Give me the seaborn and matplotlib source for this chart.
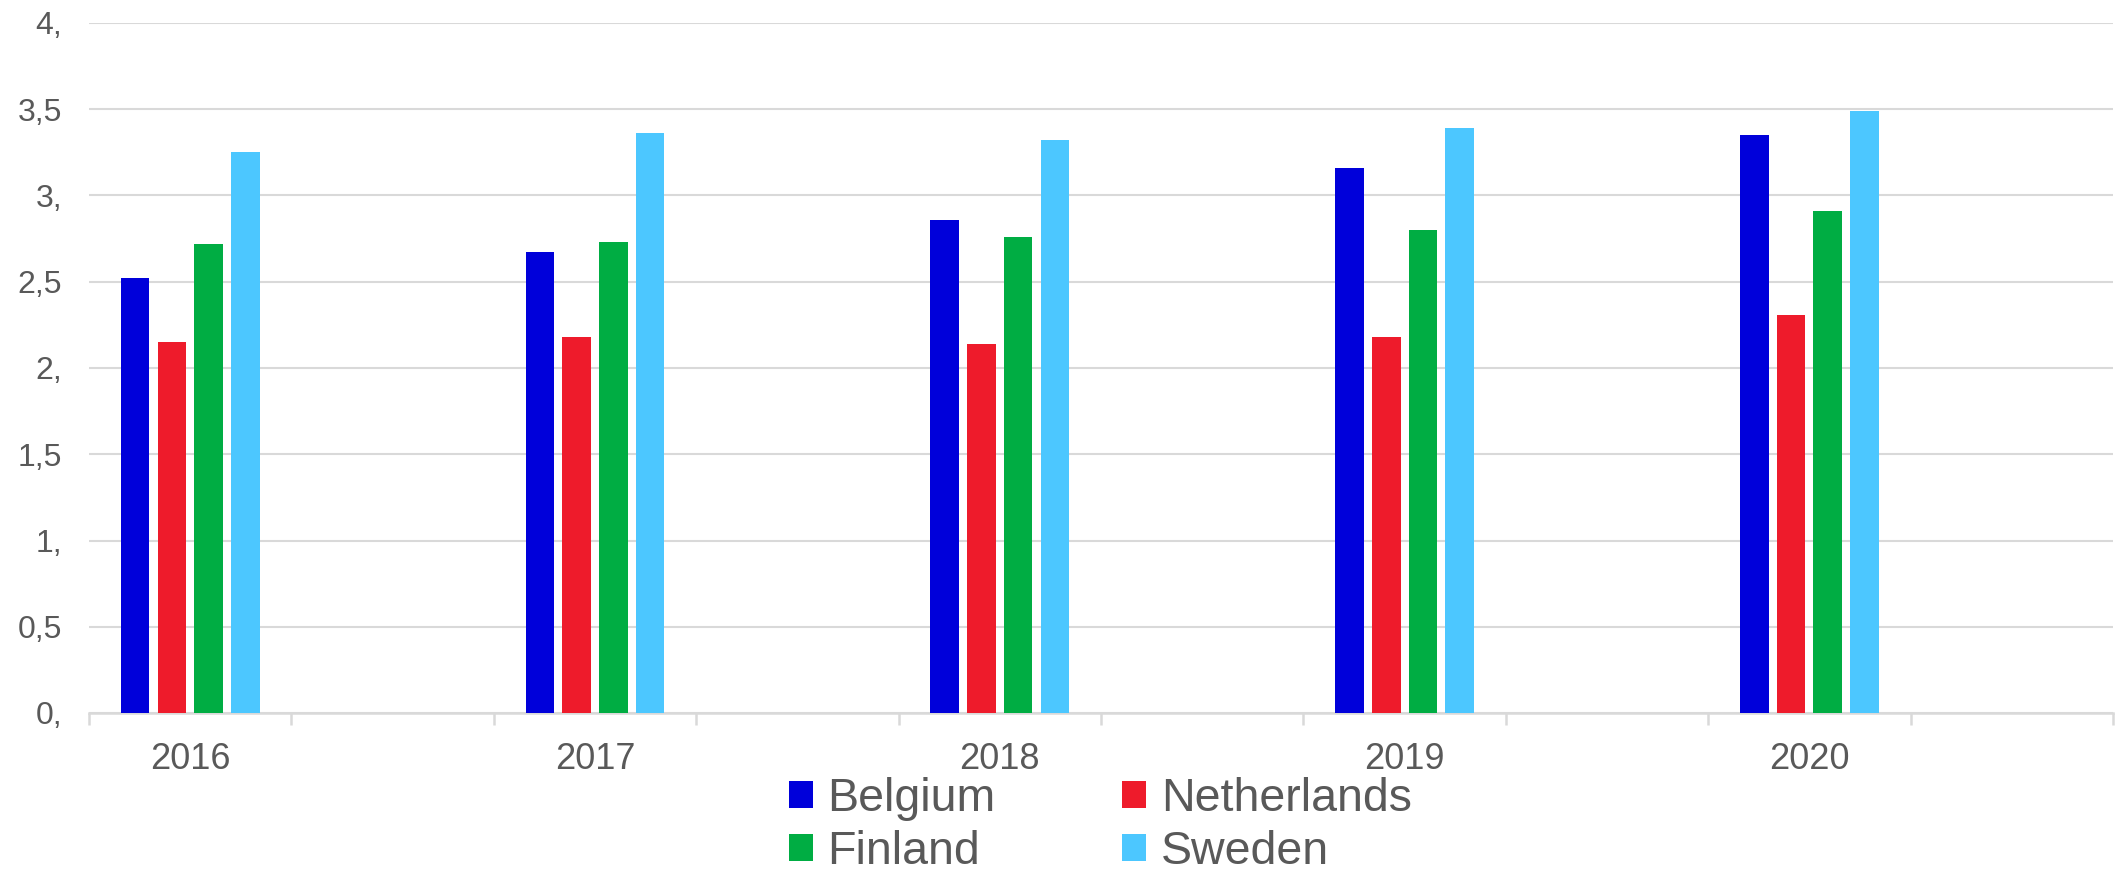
import matplotlib
matplotlib.use("Agg")
import matplotlib.pyplot as plt
import matplotlib.ticker as mticker
from matplotlib.patches import Patch
import seaborn as sns
import pandas as pd

years = ["2016", "2017", "2018", "2019", "2020"]
countries = ["Belgium", "Netherlands", "Finland", "Sweden"]
belgium = [2.52, 2.67, 2.86, 3.16, 3.35]
netherlands = [2.15, 2.18, 2.14, 2.18, 2.31]
finland = [2.72, 2.73, 2.76, 2.80, 2.91]
sweden = [3.25, 3.36, 3.32, 3.39, 3.49]
colors = ["#0000DA", "#EE1B2B", "#00AD43", "#4CC7FF"]
ytick_values = [0, 0.5, 1, 1.5, 2, 2.5, 3, 3.5, 4]
ytick_labels = ["0,", "0,5", "1,", "1,5", "2,", "2,5", "3,", "3,5", "4,"]

series = {"Belgium": belgium, "Netherlands": netherlands, "Finland": finland, "Sweden": sweden}
rows = []
for c in countries:
    for y, v in zip(years, series[c]):
        rows.append({"year": y, "country": c, "value": v})
df = pd.DataFrame(rows)

sns.set_style("white")
plt.rcParams["font.family"] = ["Liberation Sans", "DejaVu Sans"]

text_color = "#595959"
grid_color = "#D9D9D9"

fig = plt.figure(figsize=(21.24, 8.71), dpi=100)
ax = fig.add_axes([89 / 2124, 1 - 713 / 871, (2113 - 89) / 2124, (713 - 23) / 871])

sns.barplot(data=df, x="year", y="value", hue="country", order=years, hue_order=countries,
            palette=colors, saturation=1, width=0.363, gap=0.22, linewidth=0,
            legend=False, ax=ax, zorder=3)

ax.set_xlim(-0.25, 4.75)
ax.set_ylim(0, 4)
ax.set_yticks(ytick_values)
ax.set_yticklabels(ytick_labels)
ax.grid(axis="y", color=grid_color, linewidth=1.5, zorder=0)
ax.grid(axis="x", visible=False)
ax.set_axisbelow(True)
ax.set_xlabel("")
ax.set_ylabel("")

for s in ["left", "right", "top"]:
    ax.spines[s].set_visible(False)
ax.spines["bottom"].set_color(grid_color)
ax.spines["bottom"].set_linewidth(1.8)

ax.xaxis.set_minor_locator(mticker.FixedLocator([-0.25 + 0.5 * k for k in range(11)]))
ax.tick_params(axis="x", which="major", length=0, pad=21, labelsize=26, labelcolor=text_color)
ax.tick_params(axis="x", which="minor", length=8.5, width=1.8, color=grid_color, bottom=True)
ax.tick_params(axis="y", length=0, pad=19.5, labelsize=23, labelcolor=text_color)

handles = [Patch(facecolor=col, edgecolor="none") for col in colors]
order = [0, 2, 1, 3]
fig.legend([handles[i] for i in order], [countries[i] for i in order],
           ncol=2, loc="upper left", bbox_to_anchor=(789 / 2124, 1 - 777 / 871),
           frameon=False, fontsize=33.5, labelcolor=text_color,
           handlelength=0.516, handleheight=0.516, handletextpad=0.31,
           columnspacing=2.72, labelspacing=0.2, borderpad=0, borderaxespad=0)

fig.savefig("out.png", dpi=100)
